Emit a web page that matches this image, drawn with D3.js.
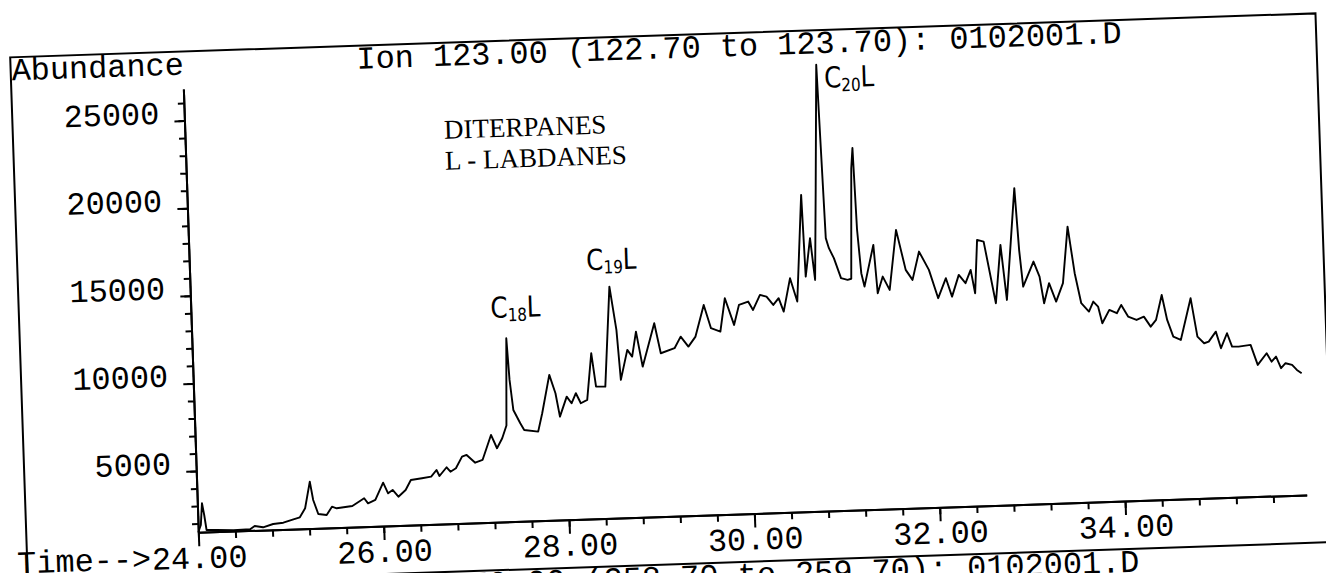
<!DOCTYPE html>
<html>
<head>
  <title>Ion 123 chromatogram</title>
  <script src="https://d3js.org/d3.v7.min.js"></script>
  <style>
    body { margin: 0; background: #fff; }
    .mono { font-family: "Liberation Mono", "DejaVu Sans Mono", monospace; font-size: 31.9px; }
    .serif { font-family: "Liberation Serif", serif; font-size: 27px; }
    .hand { font-family: "DejaVu Sans", sans-serif; font-size: 29px; }
    .axis path, .axis line { stroke: #000; stroke-width: 2px; }
  </style>
</head>
<body>
  <script>
    // retention time (min) and abundance
    var times = [24.00, 24.03, 24.05, 24.07, 24.09, 24.20, 24.38, 24.56, 24.61, 24.70,
      24.81, 24.92, 25.03, 25.10, 25.16, 25.22, 25.25, 25.30, 25.39, 25.45,
      25.50, 25.67, 25.80, 25.84, 25.92, 26.01, 26.06, 26.11, 26.17, 26.25,
      26.31, 26.43, 26.53, 26.59, 26.62, 26.70, 26.74, 26.80, 26.87, 26.92,
      27.01, 27.09, 27.19, 27.25, 27.31, 27.36, 27.39, 27.41, 27.44, 27.51,
      27.55, 27.70, 27.75, 27.84, 27.90, 27.94, 28.02, 28.07, 28.12, 28.17,
      28.24, 28.30, 28.34, 28.44, 28.52, 28.58, 28.61, 28.69, 28.74, 28.79,
      28.85, 28.99, 29.05, 29.20, 29.27, 29.35, 29.43, 29.53, 29.60, 29.70,
      29.76, 29.85, 29.91, 30.01, 30.06, 30.14, 30.21, 30.28, 30.34, 30.39,
      30.47, 30.54, 30.62, 30.64, 30.70, 30.74, 30.78, 30.83, 30.85, 30.87,
      30.90, 30.95, 31.02, 31.09, 31.13, 31.17, 31.19, 31.21, 31.24, 31.27,
      31.38, 31.41, 31.47, 31.54, 31.63, 31.72, 31.79, 31.87, 31.97, 32.06,
      32.15, 32.21, 32.29, 32.36, 32.42, 32.46, 32.50, 32.57, 32.68, 32.75,
      32.80, 32.92, 32.95, 32.98, 33.10, 33.16, 33.20, 33.26, 33.33, 33.41,
      33.48, 33.54, 33.60, 33.68, 33.73, 33.78, 33.82, 33.90, 33.98, 34.03,
      34.10, 34.19, 34.27, 34.34, 34.40, 34.47, 34.52, 34.58, 34.66, 34.78,
      34.84, 34.91, 34.96, 35.04, 35.09, 35.16, 35.21, 35.28, 35.41, 35.48,
      35.58, 35.63, 35.68, 35.73, 35.78, 35.85, 35.90, 35.95];
    var abundance = [1500, 1912, 3147, 2476, 1615, 1596, 1550, 1572, 1750, 1660,
      1829, 1884, 2059, 2160, 2664, 4172, 3121, 2313, 2240, 2703,
      2603, 2704, 3121, 2827, 3003, 3974, 3360, 3539, 3146, 3514,
      4075, 4151, 4224, 4596, 4247, 4731, 4471, 4657, 5305, 5394,
      4937, 5079, 6488, 5718, 6278, 7000, 11973, 9590, 7871, 7099,
      6708, 6585, 7626, 9799, 8741, 7398, 8526, 8140, 8703, 8124,
      8299, 10955, 9041, 9024, 14719, 12235, 9376, 11074, 10683, 12101,
      10090, 12543, 10820, 11081, 11728, 11145, 11702, 13493, 12150, 11938,
      13835, 12295, 13427, 13598, 13113, 13957, 13846, 13359, 13733, 12957,
      14851, 13503, 19581, 14911, 17093, 14705, 20000, 26967, 22000, 17068,
      16488, 15908, 14755, 14644, 14700, 21000, 22150, 17500, 15000, 14230,
      16592, 13826, 14765, 13992, 17402, 15103, 14519, 16120, 15058, 13425,
      14551, 13490, 14715, 14228, 14977, 13639, 16676, 16565, 13029, 16346,
      13195, 19553, 16000, 13927, 15331, 14462, 12936, 14068, 13005, 14041,
      17260, 14589, 12865, 12372, 12934, 12640, 11684, 12429, 12228, 12691,
      12012, 11805, 11980, 11396, 11769, 13182, 11747, 10780, 10580, 12941,
      10737, 10347, 10430, 10986, 10030, 10873, 10099, 10086, 10161, 9007,
      9657, 9168, 9445, 8774, 9050, 8940, 8646, 8449];

    var xLabelTicks = [24, 26, 28, 30, 32, 34];
    var yLabelTicks = [5000, 10000, 15000, 20000, 25000];
    var titleText = "Ion 123.00 (122.70 to 123.70): 0102001.D";
    var nextTitleText = "Ion 259.00 (258.70 to 259.70): 0102001.D";
    var noteLines = ["DITERPANES", "L - LABDANES"];
    // hand-written peak marks: carbon number, anchor time, anchor abundance
    var peakNames = ["18", "19", "20"];
    var peakTimes = [27.23, 28.28, 30.91];
    var peakLevels = [13160, 15700, 25640];

    var width = 1326, height = 573;

    var svg = d3.select('body').append('svg')
      .attr('width', width)
      .attr('height', height);

    // the scanned page sits a little askew
    var g = svg.append('g')
      .attr('transform', 'translate(198.3,532.3) rotate(-1.93)');

    var x = d3.scaleLinear().domain([24, 35.96]).range([0, 1109]);
    var y = d3.scaleLinear().domain([1500, 26800]).range([0, -443.5]);

    // frame
    var frameL = -172, frameR = 1134, frameT = -481, nextT = 48;
    g.append('path')
      .attr('d', 'M' + frameL + ',' + (nextT + 20) + 'V' + frameT + 'H' + frameR + 'V' + (nextT + 20))
      .attr('fill', 'none').attr('stroke', '#000').attr('stroke-width', 2);
    g.append('line')
      .attr('x1', frameL).attr('x2', frameR + 30)
      .attr('y1', nextT).attr('y2', nextT)
      .attr('stroke', '#000').attr('stroke-width', 2);

    // axes
    var minorX = d3.range(24, 35.8, 0.4);
    g.append('g').attr('class', 'axis')
      .call(d3.axisBottom(x).tickValues(minorX).tickSize(7).tickSizeOuter(0).tickFormat(''));
    var xAxis = g.append('g').attr('class', 'axis')
      .call(d3.axisBottom(x).tickValues(xLabelTicks).tickSize(14).tickSizeOuter(0)
        .tickFormat(d3.format('.2f')));
    xAxis.selectAll('text')
      .attr('class', 'mono').attr('fill', '#000')
      .attr('y', 36).attr('dy', null);

    var minorY = d3.range(2000, 26001, 1000);
    g.append('g').attr('class', 'axis')
      .call(d3.axisLeft(y).tickValues(minorY).tickSize(6).tickSizeOuter(0).tickFormat(''));
    var yAxis = g.append('g').attr('class', 'axis')
      .call(d3.axisLeft(y).tickValues(yLabelTicks).tickSize(10).tickSizeOuter(0)
        .tickFormat(d3.format('d')));
    yAxis.selectAll('text')
      .attr('class', 'mono').attr('fill', '#000')
      .attr('x', -25).attr('y', 2).attr('dy', null);
    g.selectAll('.axis text').attr('font-size', null).attr('font-family', null);

    // trace
    var line = d3.line()
      .x(function(d, i) { return x(times[i]); })
      .y(function(d) { return y(d); });
    g.append('path')
      .attr('d', line(abundance))
      .attr('fill', 'none')
      .attr('stroke', '#000')
      .attr('stroke-width', 1.9)
      .attr('stroke-linejoin', 'round');

    // texts
    g.append('text').attr('class', 'mono').attr('x', frameL + 1).attr('y', -458).text('Abundance');
    g.append('text').attr('class', 'mono').attr('x', 174).attr('y', -458).text(titleText);
    g.append('text').attr('class', 'mono').attr('x', 174).attr('y', -458 + nextT - frameT).text(nextTitleText);
    g.append('text').attr('class', 'mono').attr('x', -182).attr('y', 35).text('Time-->');

    g.selectAll('.note').data(noteLines).enter().append('text')
      .attr('class', 'serif note')
      .attr('x', 259)
      .attr('y', function(d, i) { return -385 + i * 31; })
      .text(function(d) { return d; });

    var marks = g.selectAll('.hand').data(peakNames).enter().append('text')
      .attr('class', 'hand')
      .attr('x', function(d, i) { return x(peakTimes[i]); })
      .attr('y', function(d, i) { return y(peakLevels[i]); })
      .attr('textLength', 50)
      .attr('lengthAdjust', 'spacingAndGlyphs');
    marks.append('tspan').text('C');
    marks.append('tspan').attr('font-size', 18).attr('dy', 4).text(function(d) { return d; });
    marks.append('tspan').attr('dy', -4).text('L');
  </script>
</body>
</html>
